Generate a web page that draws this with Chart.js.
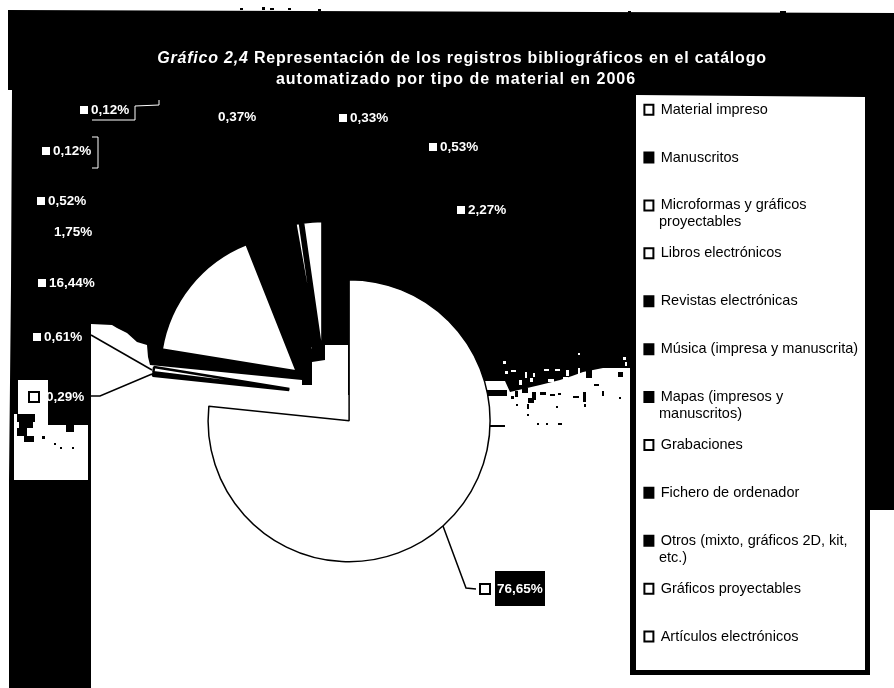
<!DOCTYPE html>
<html lang="es">
<head>
<meta charset="utf-8">
<title>Gráfico 2,4</title>
<script src="https://cdn.jsdelivr.net/npm/chart.js@4"></script>
<style>
    html, body { margin: 0; padding: 0; background: #fff; overflow: hidden; }
    canvas { display: block; }
</style>
</head>
<body>
<canvas id="chart" width="894" height="688"></canvas>
<script>
// Chart values, clockwise from 12 o'clock
const categories = [
    'Material impreso',
    'Manuscritos',
    'Microformas y gráficos\nproyectables',
    'Libros electrónicos',
    'Revistas electrónicas',
    'Música (impresa y manuscrita)',
    'Mapas (impresos y\nmanuscritos)',
    'Grabaciones',
    'Fichero de ordenador',
    'Otros (mixto, gráficos 2D, kit,\netc.)',
    'Gráficos proyectables',
    'Artículos electrónicos'
];
const shares = [76.65, 0.29, 0.61, 16.44, 1.75, 0.52, 0.12, 0.12, 0.37, 0.33, 0.53, 2.27];
const sliceColors = ['#fff', '#000', '#fff', '#fff', '#000', '#000', '#000', '#fff', '#000', '#000', '#fff', '#fff'];
const titleItalic = 'Gráfico 2,4';
const titleRest = ' Representación de los registros bibliográficos en el catálogo';
const titleSecond = 'automatizado por tipo de material en 2006';

const FONT = '"Liberation Sans", Arial, sans-serif';
const PIE_X = 325;
const PIE_Y = 394;
const EXPLODE = 36;

// Where each value label sits: [text x, text y, marker: 0 none, 1 solid, 2 hollow]
const labelSpots = [
    [497, 589, 2], [46, 397, 2], [44, 337, 1], [49, 283, 1], [54, 232, 0], [48, 201, 1],
    [53, 151, 1], [91, 110, 1], [218, 117, 0], [350, 118, 1], [440, 147, 1], [468, 210, 1]
];

function percentText(value) {
    return value.toFixed(2).replace('.', ',') + '%';
}

function fillPoly(ctx, points, color) {
    ctx.fillStyle = color;
    ctx.beginPath();
    points.forEach((p, i) => i ? ctx.lineTo(p[0], p[1]) : ctx.moveTo(p[0], p[1]));
    ctx.closePath();
    ctx.fill();
}

function strokeLine(ctx, points, color, width) {
    ctx.strokeStyle = color;
    ctx.lineWidth = width;
    ctx.beginPath();
    points.forEach((p, i) => i ? ctx.lineTo(p[0], p[1]) : ctx.moveTo(p[0], p[1]));
    ctx.stroke();
}

// The scan is a hard black and white photocopy, this paints its page
const scanBackground = {
    id: 'scanBackground',
    beforeDraw(chart) {
        const ctx = chart.ctx;
        ctx.save();
        ctx.fillStyle = '#fff';
        ctx.fillRect(0, 0, 894, 688);

        // black page area
        fillPoly(ctx, [[8, 10], [894, 13], [894, 510], [870, 510], [870, 675], [627, 675], [627, 395],
            [91, 395], [91, 688], [9, 688], [9, 480], [11, 285], [12, 90], [8, 90]], '#000');

        // white area under the pie, the edge follows the scan
        fillPoly(ctx, [[91, 324], [112, 325], [117, 328], [127, 333], [137, 342], [147, 345], [148, 357],
            [150, 365], [302, 380], [302, 385], [312, 385], [312, 362], [325, 360], [325, 345], [348, 345],
            [348, 440], [480, 440], [484, 381], [505, 381], [510, 392], [540, 385], [560, 380], [572, 376],
            [583, 372], [603, 368], [630, 368], [630, 688], [91, 688]], '#fff');
        ctx.fillStyle = '#000';
        ctx.fillRect(487, 390, 20, 6);
        ctx.fillRect(490, 425, 15, 2);
        [[240, 8, 3, 2], [262, 7, 3, 3], [270, 8, 4, 2], [288, 8, 3, 2], [318, 9, 3, 2], [628, 11, 3, 2], [780, 11, 6, 2]
        ].forEach(r => ctx.fillRect(r[0], r[1], r[2], r[3]));

        // left inset
        ctx.fillStyle = '#fff';
        ctx.fillRect(18, 380, 30, 45);
        ctx.fillRect(14, 425, 74, 55);
        ctx.fillRect(14, 414, 34, 12);

        // speckle at the edges of the black
        ctx.fillStyle = '#000';
        [[17, 414, 18, 8], [19, 422, 14, 6], [17, 428, 10, 8], [24, 436, 10, 6], [48, 414, 40, 6], [50, 420, 14, 3],
            [66, 420, 8, 12], [76, 420, 8, 5], [42, 436, 3, 3], [54, 443, 2, 2], [60, 447, 2, 2], [72, 447, 2, 2],
            [511, 396, 3, 3], [515, 391, 3, 6], [522, 388, 6, 5], [532, 392, 4, 8], [540, 392, 6, 3], [550, 394, 5, 2],
            [558, 393, 3, 2], [573, 396, 6, 2], [583, 392, 3, 10], [602, 391, 2, 5], [619, 397, 2, 2], [528, 398, 6, 5],
            [516, 404, 2, 2], [527, 404, 2, 5], [527, 414, 2, 2], [556, 406, 2, 2], [584, 404, 2, 3], [537, 423, 2, 2],
            [546, 423, 2, 2], [558, 423, 4, 2], [586, 370, 6, 8], [594, 384, 5, 2], [618, 372, 5, 5]
        ].forEach(r => ctx.fillRect(r[0], r[1], r[2], r[3]));
        ctx.fillStyle = '#fff';
        [[578, 353, 2, 2], [503, 361, 3, 3], [505, 371, 3, 3], [511, 370, 5, 2], [525, 372, 2, 6], [533, 373, 2, 4],
            [544, 369, 5, 2], [555, 369, 5, 2], [566, 370, 3, 6], [578, 368, 2, 6], [623, 357, 3, 3], [625, 362, 2, 4],
            [519, 380, 3, 5], [530, 378, 3, 4], [548, 379, 6, 3], [563, 377, 5, 3], [310, 347, 2, 2], [308, 342, 2, 2]
        ].forEach(r => ctx.fillRect(r[0], r[1], r[2], r[3]));

        // legend box
        fillPoly(ctx, [[636, 95], [865, 97], [865, 670], [636, 670]], '#fff');
        ctx.restore();
    }
};

// Pull the slices apart from a common centre
const explodeSlices = {
    id: 'explodeSlices',
    afterDatasetsUpdate(chart) {
        chart.getDatasetMeta(0).data.forEach((arc, i) => {
            const mid = (arc.startAngle + arc.endAngle) / 2;
            arc.x = PIE_X + Math.cos(mid) * EXPLODE;
            arc.y = PIE_Y + Math.sin(mid) * EXPLODE;
            arc.outerRadius = i === 0 ? 141 : 137;
        });
    }
};

// Chart.js spaces two line legend items differently, so those wrap here
const legendPlacement = {
    id: 'legendPlacement',
    afterLayout(chart) {
        const legend = chart.legend;
        const dx = 611 - legend.left;
        const dy = 69 - legend.top;
        legend.left += dx;
        legend.right += dx;
        legend.top += dy;
        legend.bottom = 800;
        legend.legendHitBoxes.forEach(box => {
            box.left += dx;
            box.top += dy;
        });
    }
};

const chartTexts = {
    id: 'chartTexts',
    afterDraw(chart) {
        const ctx = chart.ctx;
        ctx.save();
        ctx.textBaseline = 'middle';
        ctx.textAlign = 'left';

        // title
        ctx.fillStyle = '#fff';
        ctx.letterSpacing = '0.8px';
        ctx.font = 'italic bold 16px ' + FONT;
        const italicWidth = ctx.measureText(titleItalic).width;
        ctx.font = 'bold 16px ' + FONT;
        const restWidth = ctx.measureText(titleRest).width;
        const titleX = 462 - (italicWidth + restWidth) / 2;
        ctx.fillText(titleRest, titleX + italicWidth, 59);
        ctx.textAlign = 'center';
        ctx.letterSpacing = '1px';
        ctx.fillText(titleSecond, 456, 80);
        ctx.textAlign = 'left';
        ctx.letterSpacing = '0.8px';
        ctx.font = 'italic bold 16px ' + FONT;
        ctx.fillText(titleItalic, titleX, 59);
        ctx.letterSpacing = '0px';

        // second lines of the legend
        ctx.fillStyle = '#000';
        ctx.font = '14.5px ' + FONT;
        categories.forEach((name, i) => {
            const parts = name.split('\n');
            if (parts.length > 1) {
                const box = chart.legend.legendHitBoxes[i];
                ctx.fillText(parts[1], 659, box.top + 7 + 17);
            }
        });

        // leader lines
        strokeLine(ctx, [[92, 120], [135, 120], [135, 106], [159, 105], [159, 100]], '#fff', 1);
        strokeLine(ctx, [[92, 137], [98, 137], [98, 168], [92, 168]], '#fff', 1);
        strokeLine(ctx, [[91, 335], [152, 370]], '#000', 1.5);
        strokeLine(ctx, [[91, 396], [100, 396], [152, 374]], '#000', 1.5);
        strokeLine(ctx, [[443, 526], [466, 588], [476, 589]], '#000', 1.5);

        // black patch behind the main percentage
        ctx.fillStyle = '#000';
        ctx.fillRect(495, 571, 50, 35);

        // value labels
        ctx.font = 'bold 13.5px ' + FONT;
        shares.forEach((value, i) => {
            const spot = labelSpots[i];
            ctx.fillStyle = '#fff';
            ctx.fillText(percentText(value), spot[0], spot[1]);
            if (spot[2] === 1) {
                ctx.fillRect(spot[0] - 11, spot[1] - 4, 8, 8);
            } else if (spot[2] === 2) {
                ctx.strokeStyle = '#000';
                ctx.lineWidth = 2;
                ctx.strokeRect(spot[0] - 17, spot[1] - 5, 10, 10);
            }
        });
        ctx.restore();
    }
};

new Chart(document.getElementById('chart'), {
    type: 'pie',
    data: {
        labels: categories,
        datasets: [{
            data: shares,
            backgroundColor: sliceColors,
            borderColor: '#000',
            borderWidth: ctx => (ctx.dataIndex === 0 ? 1.5 : 2.5)
        }]
    },
    options: {
        responsive: false,
        animation: false,
        plugins: {
            title: { display: false },
            tooltip: { enabled: false },
            legend: {
                display: true,
                position: 'right',
                align: 'start',
                labels: {
                    boxWidth: 9,
                    boxHeight: 10,
                    padding: 33.4,
                    color: '#000',
                    font: { family: FONT, size: 14.5 },
                    generateLabels(chart) {
                        return categories.map((name, i) => ({
                            text: name.split('\n')[0],
                            fillStyle: sliceColors[i],
                            strokeStyle: '#000',
                            lineWidth: 2,
                            index: i
                        }));
                    }
                }
            }
        }
    },
    plugins: [scanBackground, explodeSlices, legendPlacement, chartTexts]
});
</script>
</body>
</html>
